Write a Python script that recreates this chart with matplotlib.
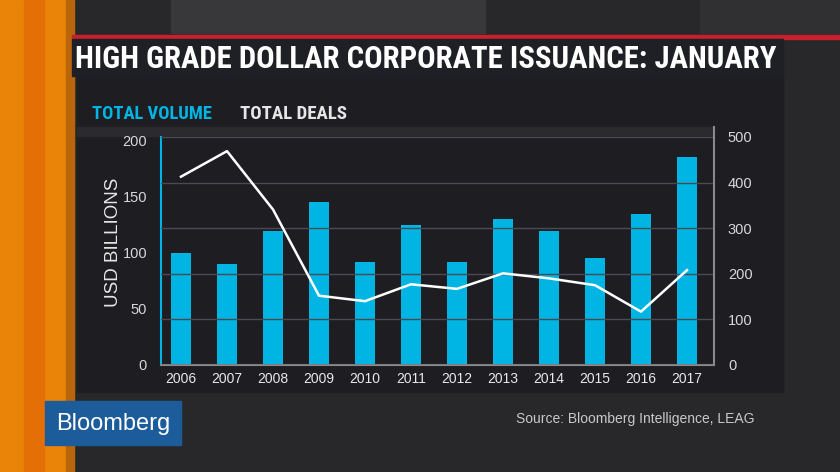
import matplotlib
matplotlib.use("Agg")
import matplotlib.pyplot as plt
from matplotlib import font_manager
from matplotlib.patches import Rectangle

# ------------------------------------------------------------
# data
# ------------------------------------------------------------
years = ["2006", "2007", "2008", "2009", "2010", "2011",
         "2012", "2013", "2014", "2015", "2016", "2017"]
total_volume = [99.5, 89.7, 119.6, 145, 92, 124.7, 92, 130, 119.6, 95.5, 134.5, 185.5]  # USD bn
total_deals = [413, 469, 341, 152, 140, 177, 167, 201, 190, 175, 117, 208]

left_ticks = [0, 50, 100, 150, 200]
right_ticks = [0, 100, 200, 300, 400, 500]

title = "HIGH GRADE DOLLAR CORPORATE ISSUANCE: JANUARY"
source = "Source: Bloomberg Intelligence, LEAG"

# ------------------------------------------------------------
# style
# ------------------------------------------------------------
W, H = 840, 472
CYAN = "#00b4e4"
BG = "#28282a"
PANEL = "#1d1d22"
GRID = "#4a4a50"

installed = {f.name for f in font_manager.fontManager.ttflist}
narrow = "Liberation Sans"
for cand in ["Roboto Condensed", "Archivo Narrow", "Liberation Sans Narrow"]:
    if cand in installed:
        narrow = cand
        break
plt.rcParams["font.family"] = ["Liberation Sans", "DejaVu Sans"]


def fx(px):
    return px / W


def fy(py):
    return 1 - py / H


fig = plt.figure(figsize=(W / 100, H / 100), dpi=100)
fig.patch.set_facecolor(BG)

# background blocks: orange strip, red rule, title bar, chart panel, logo
def rect(x0, y0, x1, y1, color, z=0):
    fig.patches.append(Rectangle((fx(x0), fy(y1)), fx(x1) - fx(x0), fy(y0) - fy(y1),
                                 transform=fig.transFigure, color=color, zorder=z))

rect(0, 0, 72, H, "#e98409")
rect(24, 0, 44, H, "#e36f06")
rect(66, 0, 74, H, "#b8650c")
rect(171, 0, 485, 33, "#38383a")
rect(700, 0, 840, 33, "#303032")
rect(72, 35, W, 39, "#c8202c", 1)
rect(72, 39, 783, 76, "#1f2025", 1)
rect(77, 76, 783, 392, PANEL, 1)
rect(77, 127, 714, 136, "#2a2a2f", 1)
rect(45, 401, 181, 445, "#1d5c9b", 1)

# title, fitted to its width in the reference
t = fig.text(fx(75), fy(59), title, color="white", fontsize=20, fontweight="bold",
             family=[narrow, "Liberation Sans"], va="center", ha="left", zorder=3)
fig.canvas.draw()
w = t.get_window_extent().width
t.set_fontsize(20 * (778 - 75) / w)

# legend labels
lv = fig.text(fx(92), fy(114), "TOTAL VOLUME", color=CYAN, fontsize=12, fontweight="bold",
              family=[narrow, "Liberation Sans"], va="center", zorder=3)
ld = fig.text(fx(240), fy(114), "TOTAL DEALS", color="#e6e6e6", fontsize=12, fontweight="bold",
              family=[narrow, "Liberation Sans"], va="center", zorder=3)
fig.canvas.draw()
lv.set_fontsize(12 * (212 - 92) / lv.get_window_extent().width)
ld.set_fontsize(12 * (347 - 240) / ld.get_window_extent().width)

# ------------------------------------------------------------
# chart
# ------------------------------------------------------------
ax = fig.add_axes([fx(161), fy(365), fx(714) - fx(161), fy(137) - fy(365)], zorder=2)
ax.set_facecolor(PANEL)
x = list(range(len(years)))
ax.bar(x, total_volume, width=0.44, color=CYAN, zorder=2)
ax.set_xlim(-0.435, len(years) - 1 + 0.587)
ax.set_ylim(0, 203)
ax.set_yticks(left_ticks)
ax.set_xticks(x)
ax.set_xticklabels(years)
ax.tick_params(axis="x", length=0, pad=5, labelsize=10, labelcolor="#e8e8e8")
ax.tick_params(axis="y", length=0, pad=10, labelsize=10.5, labelcolor="#d8d8d8")
for s in ["top", "right"]:
    ax.spines[s].set_visible(False)
ax.spines["left"].set_color(CYAN)
ax.spines["left"].set_linewidth(1.5)
ax.spines["bottom"].set_color("#8a8a8e")
ax.spines["bottom"].set_linewidth(1.5)

ax2 = ax.twinx()
ax2.plot(x, total_deals, color="white", lw=1.8, zorder=3)
ax2.set_ylim(0, 500)
ax2.set_yticks(right_ticks)
ax2.grid(axis="y", color=GRID, lw=1)
ax2.tick_params(axis="y", length=0, pad=10, labelsize=10.5, labelcolor="#d8d8d8")
for s in ["top", "left", "bottom"]:
    ax2.spines[s].set_visible(False)
ax2.spines["right"].set_color("#8a8a8e")
ax2.spines["right"].set_linewidth(1.5)
ax2.spines["right"].set_bounds(0, 522)
ax2.patch.set_visible(False)

fig.text(fx(113), fy(242), "USD BILLIONS", rotation=90, color="#e6e6e6", fontsize=13.5,
         va="center", ha="center", zorder=3)

# footer
fig.text(fx(754), fy(419), source, color="#c8c8c8", fontsize=10, ha="right", va="center", zorder=3)
fig.text(fx(113), fy(424), "Bloomberg", color="white", fontsize=17, ha="center", va="center", zorder=3)

fig.savefig("out.png", dpi=100, facecolor=fig.get_facecolor())
